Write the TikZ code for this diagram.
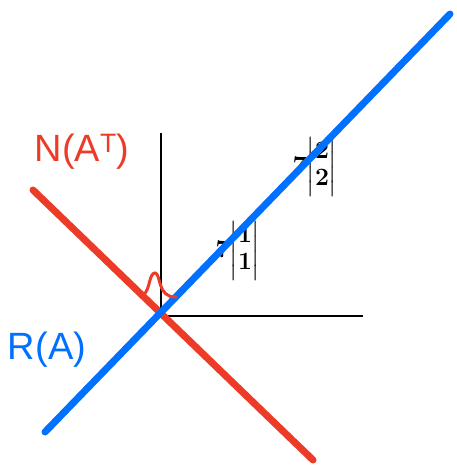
\documentclass[tikz,border=0pt]{standalone}
\usepackage{amsmath}
\usepackage{fontspec}
\setmainfont{Liberation Sans}
\definecolor{penred}{RGB}{236,60,40}
\definecolor{penblue}{RGB}{0,112,255}
\begin{document}
\begin{tikzpicture}[x=1pt,y=-1pt,
  redline/.style={draw=penred,line width=7pt,line cap=round},
  blueline/.style={draw=penblue,line width=7pt,line cap=round},
  axis/.style={draw=black,line width=1.8pt},
  lab/.style={inner sep=0pt,font=\fontsize{38}{40}\selectfont},
  vec/.style={inner sep=0pt,font=\fontsize{25}{27}\selectfont\boldmath}]
\useasboundingbox (0,0) rectangle (456,466);
% axes
\coordinate (o) at (161,316);
\coordinate (ytop) at (161,133);
\coordinate (xend) at (363,316);
\draw[axis] (ytop) -- (o) -- (xend);
% lines
\coordinate (r1) at (33,190);
\coordinate (r2) at (313,460);
\coordinate (b1) at (45,432);
\coordinate (b2) at (450,14);
\draw[redline] (r1) -- (r2);
% labels (drawn before blue line, as in the sketch)
\node[vec] (v1) at (238,251) {$\mathbf{7}\!\left|\begin{matrix}\mathbf{1}\\\mathbf{1}\end{matrix}\right|$};
\node[vec] (v2) at (315,167) {$\mathbf{7}\!\left|\begin{matrix}\mathbf{2}\\\mathbf{2}\end{matrix}\right|$};
\draw[blueline] (b1) -- (b2);
% right angle mark
\coordinate (m1) at (144,294);
\coordinate (m2) at (155,273);
\coordinate (m3) at (176,297);
\draw[penred,line width=3pt,line cap=round] (m1) .. controls (150,290) and (149,273) .. (m2) .. controls (161,273) and (157,298) .. (m3);
\node[lab,text=penred] (nat) at (82,152) {N(A$^{\text{T}}$)};
\node[lab,text=penblue] (ra) at (47,350) {R(A)};
\end{tikzpicture}
\end{document}
